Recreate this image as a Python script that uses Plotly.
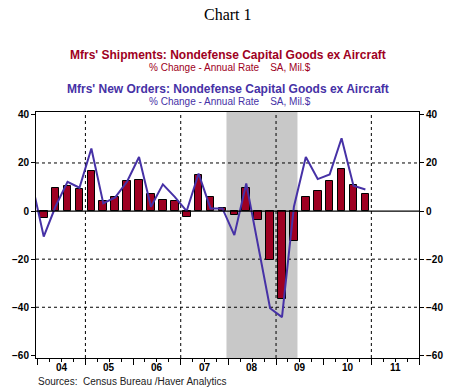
import plotly.graph_objects as go

# ---------------- data ----------------
ship_start = (2004, 1)   # first quarter of shipments series
shipments = [-3.0, 9.8, 10.4, 9.0,
             16.5, 4.0, 5.7, 12.4,
             13.1, 7.3, 4.8, 4.0,
             -2.6, 15.2, 5.7, 1.1,
             -1.8, 9.8, -3.9, -20.5,
             -36.7, -12.6, 5.7, 8.3,
             12.4, 17.4, 10.8, 7.0]

orders_start = (2003, 4)  # first quarter of new-orders series
new_orders = [12.0,
              -10.6, 2.0, 12.2, 9.7,
              26.0, 3.2, 5.7, 12.3,
              22.5, 1.8, 11.1, 5.9,
              0.0, 15.6, 1.1, 1.1,
              -10.0, 11.5, -14.0, -40.4,
              -44.1, 1.8, 22.5, 13.3,
              15.2, 30.3, 10.5, 9.0]

year_labels = ["04", "05", "06", "07", "08", "09", "10", "11"]
years = [2004, 2005, 2006, 2007, 2008, 2009, 2010, 2011]
recession = (2007.96, 2009.45)
y_ticks = [-60, -40, -20, 0, 20, 40]
grid_y = [20, -20, -40]
grid_x = [2005, 2007, 2009, 2011]


def qx(start, n):
    y, q = start
    out = []
    for _ in range(n):
        out.append(y + (q - 0.5) / 4)
        q += 1
        if q > 4:
            q = 1
            y += 1
    return out


x_ship = qx(ship_start, len(shipments))
x_ord = qx(orders_start, len(new_orders))

# ---------------- figure ----------------
RED = "#9E0022"
BLUE = "#4631A6"
W, H = 460, 391
L, R, T, B = 32.5, 419.3, 111.7, 358.3
XR = [2003.963, 2012.0]
YR = [-61.1, 41.2]

fig = go.Figure()
fig.add_trace(go.Bar(x=x_ship, y=shipments, width=0.16,
                     marker=dict(color=RED, line=dict(color="black", width=1)),
                     showlegend=False))
fig.add_trace(go.Scatter(x=x_ord, y=new_orders, mode="lines",
                         line=dict(color=BLUE, width=2), showlegend=False))
# invisible trace for the right axis
fig.add_trace(go.Scatter(x=[XR[0]], y=[0], yaxis="y2", mode="markers",
                         marker=dict(opacity=0), showlegend=False,
                         hoverinfo="skip"))

shapes = [dict(type="rect", xref="x", yref="paper", x0=recession[0],
               x1=recession[1], y0=0, y1=1, fillcolor="#C8C8C8",
               line=dict(width=0), layer="below")]
for gy in grid_y:
    shapes.append(dict(type="line", xref="paper", yref="y", x0=0, x1=1,
                       y0=gy, y1=gy, line=dict(color="black", width=1, dash="3px,3px"),
                       layer="below"))
for gx in grid_x:
    shapes.append(dict(type="line", xref="x", yref="paper", x0=gx, x1=gx,
                       y0=0, y1=1, line=dict(color="black", width=1, dash="3px,3px"),
                       layer="below"))


def px2paper_x(px):
    return (px - L) / (R - L)


def px2paper_y(py):
    return (B - py) / (B - T)


ann = []
ann.append(dict(text="Chart 1", x=px2paper_x(226), y=px2paper_y(14),
                font=dict(family="Liberation Serif", size=16, color="black")))
ann.append(dict(text="Mfrs' Shipments: Nondefense Capital Goods ex Aircraft",
                x=px2paper_x(226), y=px2paper_y(55),
                font=dict(family="Liberation Sans", size=12, color=RED, weight="bold")))
ann.append(dict(text="% Change - Annual Rate&nbsp;&nbsp;&nbsp;&nbsp;SA, Mil.$",
                x=px2paper_x(228), y=px2paper_y(67),
                font=dict(family="Liberation Sans", size=10, color=RED)))
ann.append(dict(text="Mfrs' New Orders: Nondefense Capital Goods ex Aircraft",
                x=px2paper_x(226), y=px2paper_y(89),
                font=dict(family="Liberation Sans", size=12, color=BLUE, weight="bold")))
ann.append(dict(text="% Change - Annual Rate&nbsp;&nbsp;&nbsp;&nbsp;SA, Mil.$",
                x=px2paper_x(228), y=px2paper_y(101),
                font=dict(family="Liberation Sans", size=10, color=BLUE)))
ann.append(dict(text="Sources:&nbsp;&nbsp;Census Bureau /Haver Analytics",
                x=px2paper_x(32), y=px2paper_y(382), xanchor="left",
                font=dict(family="Liberation Sans", size=10, color="#222222")))
for yv, lab in zip(years, year_labels):
    ann.append(dict(text=lab, xref="x", x=yv + 0.5, y=px2paper_y(368),
                    font=dict(family="Liberation Sans", size=10, color="black",
                              weight="bold")))
for a in ann:
    a.setdefault("xref", "paper")
    a["yref"] = "paper"
    a.setdefault("xanchor", "center")
    a["yanchor"] = "middle"
    a["showarrow"] = False

yax = dict(range=YR, tickvals=y_ticks, ticks="outside", ticklen=4,
           tickcolor="black", showgrid=False, zeroline=False,
           showline=True, linecolor="black", linewidth=1,
           tickfont=dict(family="Liberation Sans", size=10, color="black",
                         weight="bold"))

fig.update_layout(
    width=W, height=H,
    margin=dict(l=L, r=W - R, t=T, b=H - B, pad=0),
    paper_bgcolor="white", plot_bgcolor="white",
    bargap=0,
    xaxis=dict(range=XR, tickvals=years + [2012], ticks="outside", ticklen=6,
               tickcolor="black", showticklabels=False, showgrid=False,
               zeroline=False, showline=True, mirror=True, linecolor="black",
               linewidth=1,
               minor=dict(tickvals=[y + q / 4 for y in years for q in (1, 2, 3)],
                          ticks="outside", ticklen=3, tickcolor="black",
                          showgrid=False)),
    yaxis=dict(**yax, side="left"),
    yaxis2=dict(**yax, side="right", overlaying="y"),
    shapes=shapes + [dict(type="line", xref="paper", yref="y", x0=0, x1=1,
                          y0=0, y1=0, line=dict(color="black", width=1.2))],
    annotations=ann,
)

fig.write_html("out.html", config={"displayModeBar": False},
               post_script="document.body.style.margin='0';")
